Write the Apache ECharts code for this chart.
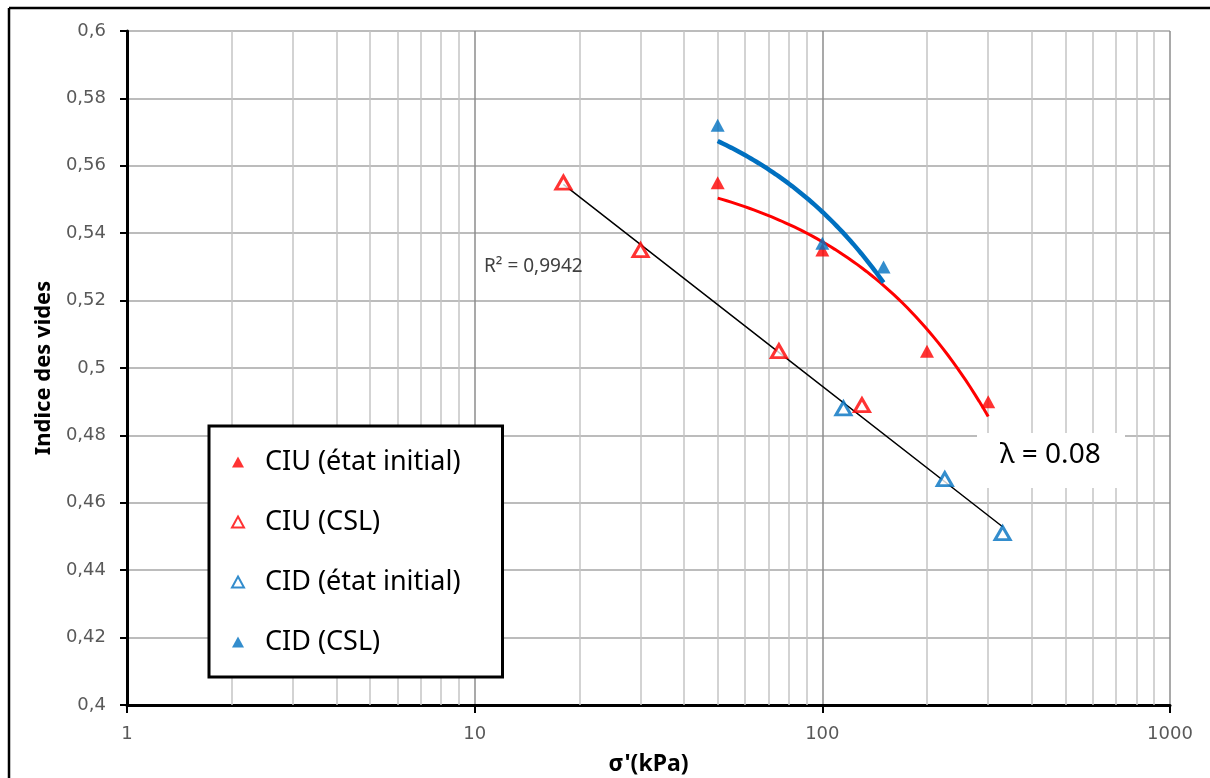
<!DOCTYPE html>
<html>
<head>
<meta charset="utf-8">
<script src="https://cdn.jsdelivr.net/npm/echarts@6/dist/echarts.min.js"></script>
<style>
html,body{margin:0;padding:0;background:#fff;}
#chart{width:1210px;height:778px;}
</style>
</head>
<body>
<div id="chart"></div>
<script>
// ---- Data ----
const ciuInitX = [50, 100, 200, 300];
const ciuInitY = [0.555, 0.535, 0.505, 0.490];
const ciuCslX  = [18, 30, 75, 130];
const ciuCslY  = [0.555, 0.535, 0.505, 0.489];
const cidInitX = [115, 225, 330];
const cidInitY = [0.488, 0.467, 0.451];
const cidCslX  = [50, 100, 150];
const cidCslY  = [0.572, 0.537, 0.530];

const seriesNames = ['CIU (état initial)', 'CIU (CSL)', 'CID (état initial)', 'CID (CSL)'];
const xTickLabels = ['1', '10', '100', '1000'];
const r2Label = 'R² = 0,9942';
const lambdaLabel = 'λ = 0.08';

const RED = '#ff0000';
const BLUE = '#0070c0';
const FONT = '"Noto Sans", "Open Sans", sans-serif';
const TICKFONT = '"DejaVu Sans", sans-serif';

function pairs(xs, ys) { return xs.map((x, i) => [x, ys[i]]); }

// Least-squares fit y = a + b*f(x)
function fit(xs, ys, f) {
  const n = xs.length;
  const fx = xs.map(f);
  const mx = fx.reduce((s, v) => s + v, 0) / n;
  const my = ys.reduce((s, v) => s + v, 0) / n;
  let sxy = 0, sxx = 0;
  for (let i = 0; i < n; i++) { sxy += (fx[i] - mx) * (ys[i] - my); sxx += (fx[i] - mx) ** 2; }
  const b = sxy / sxx;
  return { a: my - b * mx, b };
}
function sampleCurve(xs, ys, f, steps) {
  const c = fit(xs, ys, f);
  const lo = Math.log10(Math.min(...xs)), hi = Math.log10(Math.max(...xs));
  const out = [];
  for (let i = 0; i <= steps; i++) {
    const x = Math.pow(10, lo + (hi - lo) * i / steps);
    out.push([x, c.a + c.b * f(x)]);
  }
  return out;
}
// CSL trend: linear in log10(x) over all hollow-marker points
const cslX = ciuCslX.concat(cidInitX);
const cslY = ciuCslY.concat(cidInitY);
const cslLine = sampleCurve(cslX, cslY, x => Math.log10(x), 2);
// linear trendlines (in x) drawn on the log axis
const ciuCurve = sampleCurve(ciuInitX, ciuInitY, x => x, 60);
const cidCurve = sampleCurve(cidCslX, cidCslY, x => x, 60);

// minor vertical grid lines 2..9 of each decade
const minorGrid = [];
[1, 10, 100].forEach(d => { for (let k = 2; k <= 9; k++) minorGrid.push(d * k); });

const chart = echarts.init(document.getElementById('chart'), null, { renderer: 'canvas' });

const filled = { type: 'scatter', symbol: 'triangle', symbolSize: [14, 13], z: 5 };
const hollow = { type: 'scatter', symbol: 'triangle', symbolSize: [15, 13], z: 5 };

chart.setOption({
  animation: false,
  backgroundColor: '#fff',
  textStyle: { fontFamily: FONT },
  grid: { left: 127, right: 40, top: 31, bottom: 73, containLabel: false, outerBoundsMode: 'none' },
  xAxis: {
    type: 'log', logBase: 10, min: 1, max: 1000,
    name: "σ'(kPa)", nameLocation: 'middle', nameGap: 48,
    nameTextStyle: { fontSize: 23, fontWeight: 'bold', color: '#000', fontFamily: FONT },
    axisLine: { show: true, onZero: false, lineStyle: { color: '#000', width: 3 } },
    axisTick: { show: true, length: 8, lineStyle: { color: '#000', width: 2 } },
    axisLabel: { margin: 20, fontSize: 18, color: '#595959', fontFamily: TICKFONT,
      formatter: v => { const i = Math.round(Math.log10(v)); return xTickLabels[i] || String(v); } },
    splitLine: { show: true, lineStyle: { color: '#8c8c8c', width: 1.5 } }
  },
  yAxis: {
    type: 'value', min: 0.4, max: 0.6, interval: 0.02,
    name: 'Indice des vides', nameLocation: 'middle', nameGap: 72, nameRotate: 90,
    nameTextStyle: { fontSize: 22, fontWeight: 'bold', color: '#000', fontFamily: FONT },
    axisLine: { show: true, lineStyle: { color: '#000', width: 3 } },
    axisTick: { show: true, length: 7, lineStyle: { color: '#000', width: 2 } },
    axisLabel: { margin: 21, fontSize: 18, color: '#595959', fontFamily: TICKFONT,
      formatter: v => String(+v.toFixed(2)).replace('.', ',') },
    splitLine: { show: true, lineStyle: { color: '#a6a6a6', width: 1.5 } }
  },
  legend: {
    orient: 'vertical', left: 209, top: 426, z: 8,
    data: seriesNames,
    backgroundColor: '#fff', borderColor: '#000', borderWidth: 3, borderRadius: 0,
    padding: [21, 42, 20, 22], itemGap: 30,
    itemWidth: 12, itemHeight: 11,
    textStyle: { fontSize: 27, color: '#000', fontFamily: FONT, padding: [0, 0, 0, 16], lineHeight: 30 }
  },
  series: [
    { type: 'line', data: [], silent: true, z: 1,
      markLine: { silent: true, z: 1, symbol: 'none', label: { show: false }, animation: false,
        lineStyle: { color: '#c4c4c4', width: 1.5, type: 'solid' },
        data: minorGrid.map(v => ({ xAxis: v })) } },
    { type: 'line', data: cslLine, showSymbol: false, silent: true, z: 3,
      lineStyle: { color: '#000', width: 1.5 } },
    { type: 'line', data: ciuCurve, showSymbol: false, silent: true, z: 3,
      lineStyle: { color: RED, width: 3 } },
    { type: 'line', data: cidCurve, showSymbol: false, silent: true, z: 3,
      lineStyle: { color: BLUE, width: 4.5 } },
    Object.assign({}, filled, { name: seriesNames[0], data: pairs(ciuInitX, ciuInitY),
      itemStyle: { color: RED } }),
    Object.assign({}, hollow, { name: seriesNames[1], data: pairs(ciuCslX, ciuCslY),
      itemStyle: { color: '#fff', borderColor: RED, borderWidth: 3 } }),
    Object.assign({}, hollow, { name: seriesNames[2], data: pairs(cidInitX, cidInitY),
      itemStyle: { color: '#fff', borderColor: BLUE, borderWidth: 3 } }),
    Object.assign({}, filled, { name: seriesNames[3], data: pairs(cidCslX, cidCslY),
      itemStyle: { color: BLUE } })
  ],
  graphic: [
    { type: 'line', shape: { x1: 9, y1: 8, x2: 1210, y2: 8 }, style: { stroke: '#000', lineWidth: 2.5 }, z: 10 },
    { type: 'line', shape: { x1: 9, y1: 8, x2: 9, y2: 778 }, style: { stroke: '#000', lineWidth: 2.5 }, z: 10 },
    { type: 'text', left: 484, top: 257, z: 10,
      style: { text: r2Label, fontSize: 19, fill: '#404040', fontFamily: FONT } },
    { type: 'rect', left: 977, top: 433, z: 10, shape: { width: 148, height: 55 }, style: { fill: '#fff' } },
    { type: 'text', left: 1000, top: 441, z: 11,
      style: { text: lambdaLabel, fontSize: 28, fill: '#000', fontFamily: FONT } }
  ]
});
</script>
</body>
</html>
